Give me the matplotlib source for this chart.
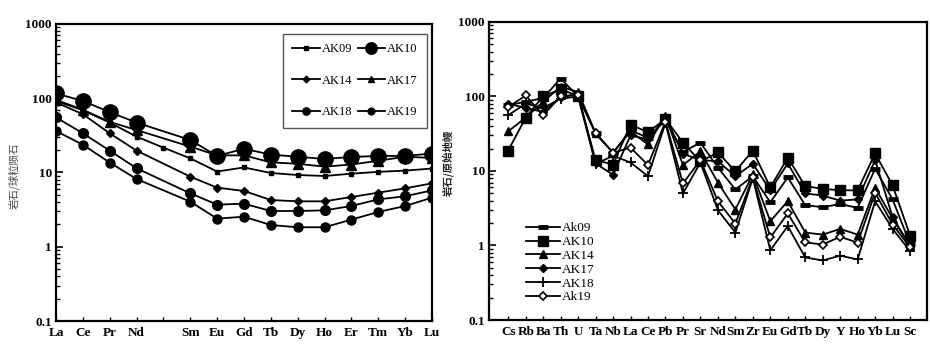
import numpy as np
import matplotlib
matplotlib.use("Agg")
import matplotlib.pyplot as plt
from matplotlib.ticker import LogLocator, NullFormatter, FixedLocator

plt.rcParams.update({"font.family": ["Liberation Serif", "DejaVu Serif"],
                     "axes.unicode_minus": False})
nan = np.nan

# 左图: 球粒陨石标准化稀土配分 (Pm 位置留空)
REE = ["La", "Ce", "Pr", "Nd", "", "Sm", "Eu", "Gd", "Tb", "Dy", "Ho", "Er", "Tm", "Yb", "Lu"]
ak09_ree = [92, 69, 47, 30.4, 21.6, 15.5, 10.3, 11.7, 9.85, 9.25, 8.97, 9.64, 10.2, 10.6, 11.3]
ak10_ree = [116, 92, 65, 47, nan, 27.4, 16.7, 20.9, 17.4, 16.3, 15.2, 16.2, 16.7, 16.7, 18.0]
ak14_ree = [88, 61, 33.7, 19.7, nan, 8.79, 6.25, 5.64, 4.26, 4.09, 4.09, 4.68, 5.35, 6.12, 7.14]
ak17_ree = [95, 70, 48, 37.3, nan, 22.3, 17.0, 17.0, 13.7, 13.1, 12.0, 12.8, 14.4, 16.3, 15.7]
ak18_ree = [55.3, 33.7, 19.7, 11.4, nan, 5.24, 3.69, 3.80, 3.03, 3.03, 3.09, 3.54, 4.35, 4.78, 5.75]
ak19_ree = [36.2, 23.7, 13.6, 8.17, nan, 4.05, 2.39, 2.54, 1.96, 1.83, 1.83, 2.32, 2.94, 3.54, 4.58]

# 右图: 原始地幔标准化微量元素蛛网图
TRACE = ["Cs", "Rb", "Ba", "Th", "U", "Ta", "Nb", "La", "Ce", "Pb", "Pr", "Sr", "Nd", "Sm",
         "Zr", "Eu", "Gd", "Tb", "Dy", "Y", "Ho", "Yb", "Lu", "Sc"]
ak09_tr = [76, 85, 95, 174, 100, 32, 17.6, 35, 28, 48, 18, 24, 11.1, 5.65,
           8.5, 3.8, 8.2, 3.47, 3.27, 3.6, 3.2, 10.7, 4.15, 1.05]
ak10_tr = [18.8, 52, 101, 124, 102, 14.0, 12.2, 42, 33, 50, 24, 13.4, 17.7, 9.9,
           18.8, 6.0, 15.1, 6.25, 5.77, 5.5, 5.5, 17.2, 6.4, 1.36]
ak14_tr = [34, 52, 85, 135, 115, 32, 17.6, 34, 22.7, 55, 12, 18.3, 7.0, 3.04,
           9.0, 2.12, 3.93, 1.49, 1.40, 1.67, 1.40, 5.95, 2.3, 1.0]
ak17_tr = [80, 70, 62, 98, 108, 12.6, 8.9, 30, 26.5, 52, 17, 14, 13.5, 8.5,
           12.5, 5.5, 12.6, 5.0, 4.68, 4.0, 4.15, 14, 2.4, 0.98]
ak18_tr = [56, 80, 70, 93, 100, 12.4, 16, 13, 8.5, 44, 5.0, 13, 2.98, 1.49,
           8.0, 0.86, 1.82, 0.69, 0.63, 0.73, 0.65, 3.93, 1.67, 0.84]
ak19_tr = [72, 103, 56, 100, 105, 32, 17.6, 20.6, 12.0, 46, 6.8, 14, 3.93, 1.97,
           8.2, 1.28, 2.69, 1.10, 1.03, 1.31, 1.09, 5.1, 1.91, 0.95]

LBL = dict(fontsize=9.5, fontweight="bold")
CJK = ["Noto Sans CJK SC", "DejaVu Sans"]


def style_log(ax):
    ax.set_yscale("log")
    ax.set_ylim(0.1, 1000)
    ax.yaxis.set_major_locator(FixedLocator([0.1, 1, 10, 100, 1000]))
    ax.set_yticklabels(["0.1", "1", "10", "100", "1000"], **LBL)
    ax.yaxis.set_minor_locator(LogLocator(base=10, subs=np.arange(2, 10)))
    ax.yaxis.set_minor_formatter(NullFormatter())
    ax.tick_params(axis="y", which="major", direction="in", length=5, width=1.2, pad=3)
    ax.tick_params(axis="y", which="minor", direction="in", length=3, width=1)
    ax.tick_params(axis="x", direction="in", length=3, width=1, pad=4)
    for s in ax.spines.values():
        s.set_linewidth(1.6)


fig = plt.figure(figsize=(9.3, 3.47), dpi=100)

# ---- 左图
ax1 = fig.add_axes([0.0602, 0.0749, 0.4043, 0.856])
x1 = np.arange(len(REE))
specs1 = [("AK09", ak09_ree, "s", 3.5), ("AK10", ak10_ree, "o", 11),
          ("AK14", ak14_ree, "D", 4.5), ("AK17", ak17_ree, "^", 6.5),
          ("AK18", ak18_ree, "o", 7), ("AK19", ak19_ree, "o", 6.5)]
h1 = {}
for name, vals, mk, ms in specs1:
    v = np.array(vals, float)
    ok = ~np.isnan(v)
    h1[name], = ax1.plot(x1[ok], v[ok], color="black", lw=1.3, marker=mk, ms=ms,
                         mfc="black", mec="black", label=name)
style_log(ax1)
ax1.set_xlim(0, len(REE) - 1)
ax1.set_xticks(x1)
ax1.set_xticklabels(REE, **LBL)
ax1.set_ylabel("岩石/球粒陨石", family=CJK, fontsize=7.5, color="#444444")
ax1.yaxis.set_label_coords(-0.096, 0.49)
order = ["AK09", "AK14", "AK18", "AK10", "AK17", "AK19"]
leg1 = ax1.legend([h1[k] for k in order], order, ncol=2, loc="upper right",
                  bbox_to_anchor=(0.987, 0.966), borderaxespad=0, prop={"size": 9},
                  labelspacing=1.55, handlelength=2.2, handletextpad=0.15,
                  columnspacing=0.45, borderpad=0.75, fancybox=False, framealpha=1,
                  markerscale=0.75)
leg1.get_frame().set_edgecolor("#555555")
leg1.get_frame().set_linewidth(1.0)

# ---- 右图
ax2 = fig.add_axes([0.5258, 0.0778, 0.471, 0.859])
x2 = np.arange(len(TRACE))
specs2 = [("Ak09", ak09_tr, "_", 7, "black", 3.5), ("AK10", ak10_tr, "s", 6.5, "black", 1),
          ("AK14", ak14_tr, "^", 6, "black", 1), ("AK17", ak17_tr, "D", 4.5, "black", 1),
          ("AK18", ak18_tr, "+", 7, "black", 1.3), ("Ak19", ak19_tr, "D", 4.5, "white", 1.2)]
for name, vals, mk, ms, fc, mew in specs2:
    ax2.plot(x2, vals, color="black", lw=1.3, marker=mk, ms=ms, mfc=fc,
             mec="black", mew=mew, label=name)
style_log(ax2)
ax2.set_xlim(-1.1, len(TRACE) - 0.03)
ax2.set_xticks(x2)
ax2.set_xticklabels(TRACE, **LBL)
ax2.set_ylabel("岩石/原始地幔", family=CJK, fontsize=7.5, fontweight="bold", color="#222222")
ax2.yaxis.set_label_coords(-0.08, 0.527)
ax2.legend(loc="lower left", bbox_to_anchor=(0.06, 0.02), frameon=False,
           prop={"size": 9.5}, labelspacing=0.12, handlelength=2.6,
           handletextpad=0.1, borderpad=0.3)

fig.savefig("out.png", dpi=100)
